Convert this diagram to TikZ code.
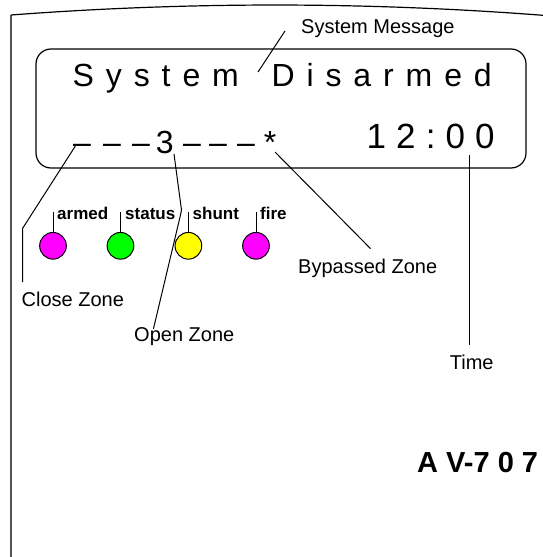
\documentclass[tikz,border=0pt]{standalone}
\usepackage{fontspec}
\setmainfont{Liberation Sans}
\newlength\lsp
\setlength\lsp{11.9pt}
\makeatletter
\def\spaced#1{\sp@ced#1\relax}
\def\sp@ced#1{\ifx\relax#1\else#1\hspace{\lsp}\expandafter\sp@ced\fi}
\makeatother
\definecolor{ledmag}{HTML}{FF00FF}
\definecolor{ledgreen}{HTML}{00FF00}
\definecolor{ledyellow}{HTML}{FFFF00}
\definecolor{framegray}{HTML}{555555}
\tikzset{
  lbl/.style={font=\fontsize{20}{24}\selectfont, inner sep=0pt, anchor=base west},
  ledlbl/.style={font=\bfseries\fontsize{17}{20}\selectfont, inner sep=0pt, anchor=base west},
  lcd/.style={inner sep=0pt, anchor=base west},
  conn/.style={line width=1pt, black},
  led/.style={circle, draw=black, line width=1pt, minimum size=26.7pt, inner sep=0pt},
  ledtick/.style={line width=1pt},
}
\begin{document}
\begin{tikzpicture}[x=1pt,y=-1pt]
\useasboundingbox (0,0) rectangle (543,557);
% outer housing
\draw[framegray, line width=2pt] (11,15) -- (11,557);
\draw[line width=1.2pt] (11,15) .. controls (187,1.7) and (363,1.7) .. (539,15) -- (543,15.3);
% display
\node[draw, line width=1.2pt, rounded corners=15pt, minimum width=490pt, minimum height=119pt, inner sep=0pt] (display) at (281,108.5) {};
\node[lcd, font=\fontsize{32}{38}\selectfont] (msg) at (72.5,86) {\spaced{System}\hspace{20.8pt}\spaced{Disarmed}};
\node[lcd, font=\fontsize{32}{38}\selectfont] (zones) at (73,153) {\textendash\hspace{12.2pt}\textendash\hspace{11.2pt}\textendash\hspace{5.9pt}3\hspace{9.5pt}\textendash\hspace{8.2pt}\textendash\hspace{10.2pt}\textendash\hspace{8.9pt}*};
\node[lcd, font=\fontsize{35}{40}\selectfont] (clock) at (366.5,148) {1\hspace{10.1pt}2\hspace{10.1pt}:\hspace{10.1pt}0\hspace{10.1pt}0};
% labels
\node[lbl] (sysmsg) at (301,33.5) {System Message};
\node[lbl] (close) at (21.5,306.5) {Close Zone};
\node[lbl] (open) at (134,341.5) {Open Zone};
\node[lbl] (bypass) at (298,273.3) {Bypassed Zone};
\node[lbl] (time) at (449.7,369.2) {Time};
% LEDs
\node[led, fill=ledmag] (armed) at (53,245.8) {};
\node[led, fill=ledgreen] (status) at (120.5,245.8) {};
\node[led, fill=ledyellow] (shunt) at (188.4,245.8) {};
\node[led, fill=ledmag] (fire) at (256,245.8) {};
\foreach \n in {armed,status,shunt,fire}{
  \coordinate (\n top) at ([yshift=19.5pt]\n.north);
  \draw[ledtick] (\n top) -- (\n.north);
}
\node[ledlbl] (armedlbl) at (57,219.8) {armed};
\node[ledlbl] (statuslbl) at (125,219.8) {status};
\node[ledlbl] (shuntlbl) at (192.5,219.8) {shunt};
\node[ledlbl] (firelbl) at (260,219.8) {fire};
% model name
\node[anchor=base west, font=\bfseries\fontsize{29}{34}\selectfont, inner sep=0pt] (model) at (417,472) {A V-7 0 7};
% connector end points
\coordinate (sm1) at (285,31);
\coordinate (sm2) at (258,72);
\coordinate (cz1) at (75.7,145.5);
\coordinate (cz2) at (22.5,228.5);
\coordinate (cz3) at (22.5,282);
\coordinate (oz1) at (174,154);
\coordinate (oz2) at (181.5,210);
\coordinate (oz3) at (180.5,215);
\coordinate (oz4) at (153.4,329);
\coordinate (bz1) at (275,152);
\coordinate (bz2) at (370.5,248.6);
\coordinate (tm1) at (469.5,155);
\coordinate (tm2) at (469.5,344.5);
% connectors
\draw[conn] (sm1) -- (sm2);
\draw[conn] (cz1) -- (cz2) -- (cz3);
\draw[conn] (oz1) -- (oz2) -- (oz3) -- (oz4);
\draw[conn] (bz1) -- (bz2);
\draw[conn] (tm1) -- (tm2);
\end{tikzpicture}
\end{document}
